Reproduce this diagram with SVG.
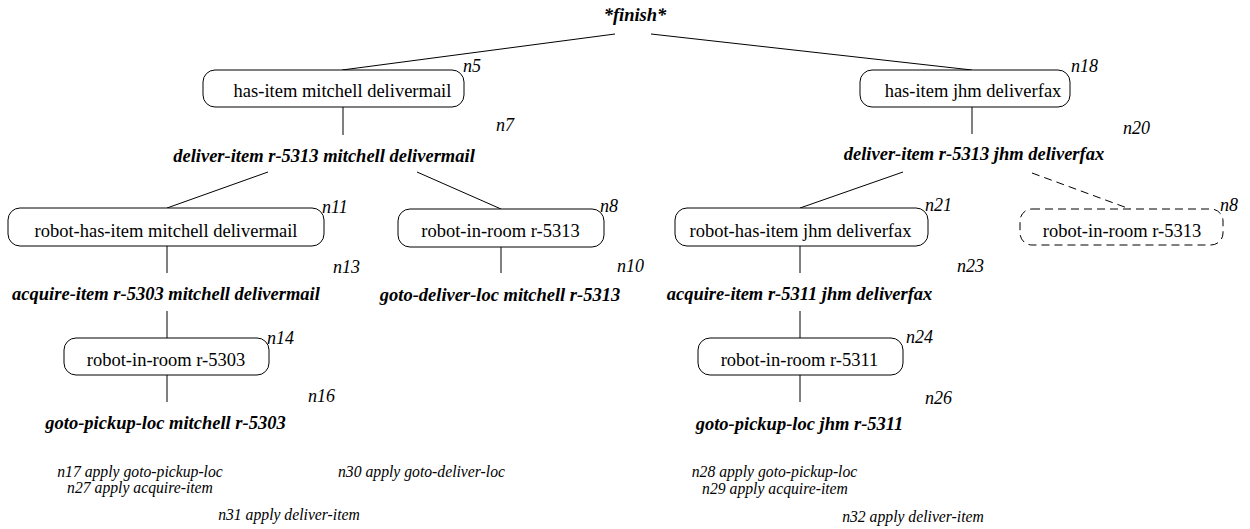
<svg xmlns="http://www.w3.org/2000/svg" width="1250" height="529" viewBox="0 0 1250 529">
<style>
text{font-family:"Liberation Serif","Times New Roman",serif;fill:#000}
.box{fill:#fff;stroke:#000;stroke-width:1}
.dbox{fill:#fff;stroke:#000;stroke-width:1;stroke-dasharray:8,5}
.lbl{font-size:18.5px;text-anchor:middle}
.act{font-size:18.5px;font-weight:bold;font-style:italic;text-anchor:middle}
.nid{font-size:18px;font-style:italic}
.app{font-size:15.7px;font-style:italic;text-anchor:middle}
.e{stroke:#000;stroke-width:1;fill:none}
.ed{stroke:#000;stroke-width:1;fill:none;stroke-dasharray:8,5}
</style>
<rect width="1250" height="529" fill="#fff"/>
<g id="connectors">
<line class="e" x1="615" y1="34" x2="342" y2="70"/>
<line class="e" x1="651" y1="34" x2="972" y2="70"/>
<line class="e" x1="343" y1="107" x2="343" y2="135"/>
<line class="e" x1="972" y1="107" x2="972" y2="134"/>
<line class="e" x1="268" y1="172" x2="167" y2="208"/>
<line class="e" x1="417" y1="172" x2="501" y2="209"/>
<line class="e" x1="903" y1="172" x2="800" y2="208"/>
<line class="ed" x1="1032" y1="173" x2="1130" y2="209"/>
<line class="e" x1="167" y1="246" x2="167" y2="273"/>
<line class="e" x1="167" y1="311" x2="167" y2="338"/>
<line class="e" x1="167" y1="375" x2="167" y2="402"/>
<line class="e" x1="501" y1="247" x2="501" y2="273"/>
<line class="e" x1="800" y1="246" x2="800" y2="273"/>
<line class="e" x1="800" y1="311" x2="800" y2="338"/>
<line class="e" x1="800" y1="375" x2="800" y2="402"/>
</g>
<g id="finish"><text class="act" x="635" y="21">*finish*</text></g>
<g id="n5"><rect class="box" x="203" y="70" width="261" height="37" rx="12"/><text class="lbl" x="342.5" y="97">has-item mitchell delivermail</text><text class="nid" x="463" y="72">n5</text></g>
<g id="n18"><rect class="box" x="860" y="70" width="210" height="37" rx="12"/><text class="lbl" x="973" y="97">has-item jhm deliverfax</text><text class="nid" x="1071" y="72">n18</text></g>
<g id="n7"><text class="act" x="324" y="162">deliver-item r-5313 mitchell delivermail</text><text class="nid" x="496" y="131">n7</text></g>
<g id="n20"><text class="act" x="974" y="160">deliver-item r-5313 jhm deliverfax</text><text class="nid" x="1123" y="134">n20</text></g>
<g id="n11"><rect class="box" x="8" y="208" width="316" height="38" rx="12"/><text class="lbl" x="166" y="237">robot-has-item mitchell delivermail</text><text class="nid" x="322" y="213">n11</text></g>
<g id="n8"><rect class="box" x="398" y="209" width="206" height="38" rx="12"/><text class="lbl" x="500.5" y="237">robot-in-room r-5313</text><text class="nid" x="600" y="212">n8</text></g>
<g id="n21"><rect class="box" x="675" y="208" width="253" height="38" rx="12"/><text class="lbl" x="800.5" y="237">robot-has-item jhm deliverfax</text><text class="nid" x="925" y="211">n21</text></g>
<g id="n8-ref"><rect class="dbox" x="1020" y="209" width="203" height="36" rx="12"/><text class="lbl" x="1122" y="237">robot-in-room r-5313</text><text class="nid" x="1220" y="211">n8</text></g>
<g id="n13"><text class="act" x="166" y="300">acquire-item r-5303 mitchell delivermail</text><text class="nid" x="333" y="273">n13</text></g>
<g id="n10"><text class="act" x="500" y="301">goto-deliver-loc mitchell r-5313</text><text class="nid" x="617" y="272">n10</text></g>
<g id="n23"><text class="act" x="799.5" y="300">acquire-item r-5311 jhm deliverfax</text><text class="nid" x="957" y="272">n23</text></g>
<g id="n14"><rect class="box" x="64" y="338" width="205" height="37" rx="12"/><text class="lbl" x="166" y="366">robot-in-room r-5303</text><text class="nid" x="267" y="344">n14</text></g>
<g id="n24"><rect class="box" x="698" y="338" width="205" height="37" rx="12"/><text class="lbl" x="799.5" y="366">robot-in-room r-5311</text><text class="nid" x="906" y="343">n24</text></g>
<g id="n16"><text class="act" x="165.5" y="429">goto-pickup-loc mitchell r-5303</text><text class="nid" x="308" y="402">n16</text></g>
<g id="n26"><text class="act" x="799.5" y="430">goto-pickup-loc jhm r-5311</text><text class="nid" x="925" y="404">n26</text></g>
<g id="applied">
<text class="app" x="140" y="477">n17 apply goto-pickup-loc</text>
<text class="app" x="140" y="493">n27 apply acquire-item</text>
<text class="app" x="421.5" y="477">n30 apply goto-deliver-loc</text>
<text class="app" x="289" y="520">n31 apply deliver-item</text>
<text class="app" x="774.5" y="477">n28 apply goto-pickup-loc</text>
<text class="app" x="775" y="494">n29 apply acquire-item</text>
<text class="app" x="913" y="522">n32 apply deliver-item</text>
</g>
</svg>
